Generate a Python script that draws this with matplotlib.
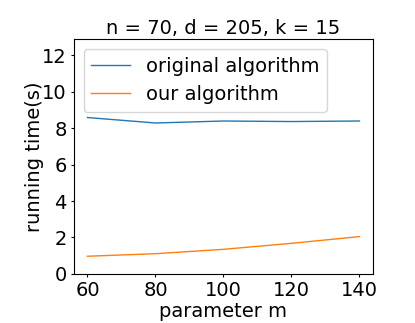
import matplotlib
matplotlib.use('Agg')
import matplotlib.pyplot as plt

m_values = [60, 80, 100, 120, 140]
original_time = [8.59, 8.29, 8.40, 8.37, 8.40]
our_time = [0.97, 1.11, 1.35, 1.68, 2.05]

plt.rcParams['font.size'] = 14
plt.rcParams['xtick.major.size'] = 2.5
plt.rcParams['ytick.major.size'] = 2.5
plt.rcParams['xtick.major.pad'] = 2.5
plt.rcParams['ytick.major.pad'] = 2.5
plt.rcParams['axes.linewidth'] = 0.8

fig = plt.figure(figsize=(4.15, 3.23), dpi=100)
ax = fig.add_axes([0.178, 0.152, 0.721, 0.727])
ax.plot(m_values, original_time, label='original algorithm', linewidth=1)
ax.plot(m_values, our_time, label='our algorithm', linewidth=1)
ax.set_ylim(0, 12.9)
ax.set_xticks([60, 80, 100, 120, 140])
ax.set_yticks([0, 2, 4, 6, 8, 10, 12])
ax.set_title('n = 70, d = 205, k = 15', fontsize=14, pad=3.5)
ax.set_xlabel('parameter m', labelpad=1.5)
ax.set_ylabel('running time(s)', labelpad=-1.5)
ax.legend(loc='upper left')

fig.savefig('out.png', dpi=100)
